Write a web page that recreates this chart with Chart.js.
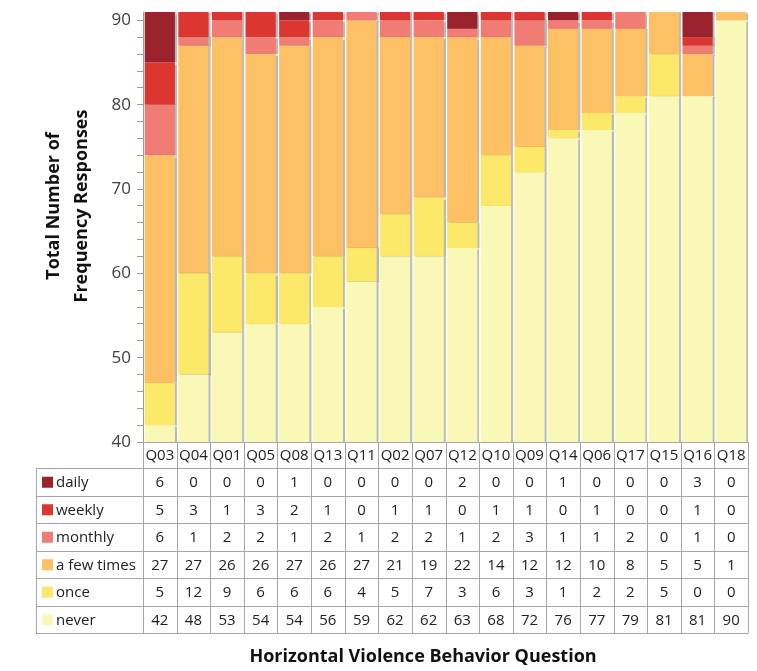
<!DOCTYPE html>
<html>
<head>
<meta charset="utf-8">
<script src="https://cdn.jsdelivr.net/npm/chart.js@4.4.0/dist/chart.umd.min.js"></script>
<style>
  body { margin: 0; background: #fff; }
  #wrap { width: 757px; height: 671px; }
</style>
</head>
<body>
<div id="wrap"><canvas id="myChart" width="757" height="671"></canvas></div>
<script>
const categories = ['Q03', 'Q04', 'Q01', 'Q05', 'Q08', 'Q13', 'Q11', 'Q02', 'Q07', 'Q12', 'Q10', 'Q09', 'Q14', 'Q06', 'Q17', 'Q15', 'Q16', 'Q18'];
const daily    = [6, 0, 0, 0, 1, 0, 0, 0, 0, 2, 0, 0, 1, 0, 0, 0, 3, 0];
const weekly   = [5, 3, 1, 3, 2, 1, 0, 1, 1, 0, 1, 1, 0, 1, 0, 0, 1, 0];
const monthly  = [6, 1, 2, 2, 1, 2, 1, 2, 2, 1, 2, 3, 1, 1, 2, 0, 1, 0];
const fewTimes = [27, 27, 26, 26, 27, 26, 27, 21, 19, 22, 14, 12, 12, 10, 8, 5, 5, 1];
const once     = [5, 12, 9, 6, 6, 6, 4, 5, 7, 3, 6, 3, 1, 2, 2, 5, 0, 0];
const never    = [42, 48, 53, 54, 54, 56, 59, 62, 62, 63, 68, 72, 76, 77, 79, 81, 81, 90];
const yMajorTicks = [40, 50, 60, 70, 80, 90];

const font = '"Open Sans", "DejaVu Sans", sans-serif';

// bottom to top in the stack
const series = [
    { label: 'never', data: never, color: 'rgb(249,248,182)' },
    { label: 'once', data: once, color: 'rgb(252,233,106)' },
    { label: 'a few times', data: fewTimes, color: 'rgb(253,192,100)' },
    { label: 'monthly', data: monthly, color: 'rgb(240,124,115)' },
    { label: 'weekly', data: weekly, color: 'rgb(220,54,48)' },
    { label: 'daily', data: daily, color: 'rgb(155,35,45)' }
];

const data = {
    labels: categories,
    datasets: series.map(s => ({
        label: s.label,
        data: s.data,
        backgroundColor: s.color,
        borderWidth: 0,
        barPercentage: 0.9,
        categoryPercentage: 1.0
    }))
};

// shadow on the right of each bar
const barShadow = {
    id: 'barShadow',
    beforeDatasetsDraw(chart) {
        const ctx = chart.ctx;
        ctx.save();
        ctx.shadowColor = 'rgba(0,0,0,0.28)';
        ctx.shadowOffsetX = 2;
        ctx.shadowOffsetY = 0;
        ctx.shadowBlur = 1;
    },
    afterDatasetsDraw(chart) {
        chart.ctx.restore();
    }
};

// data table under the bars, plus axis titles
const dataTable = {
    id: 'dataTable',
    afterDraw(chart) {
        const ctx = chart.ctx;
        const x = chart.scales.x;
        const area = chart.chartArea;
        const colW = area.width / categories.length;
        const tableLeft = 36;
        const top = area.bottom;
        const headH = 26;
        const rowH = 27.5;
        const rows = series.slice().reverse();
        const bottom = top + headH + rows.length * rowH;

        ctx.save();
        ctx.strokeStyle = '#a6a6a6';
        ctx.lineWidth = 1;
        ctx.beginPath();
        // header top line
        ctx.moveTo(area.left, Math.round(top) + 0.5);
        ctx.lineTo(area.right, Math.round(top) + 0.5);
        for (let r = 0; r <= rows.length; r++) {
            const yy = Math.round(top + headH + r * rowH) + 0.5;
            ctx.moveTo(tableLeft, yy);
            ctx.lineTo(area.right, yy);
        }
        for (let i = 0; i <= categories.length; i++) {
            const xx = Math.round(area.left + i * colW) + 0.5;
            ctx.moveTo(xx, top);
            ctx.lineTo(xx, bottom);
        }
        ctx.moveTo(tableLeft + 0.5, top + headH);
        ctx.lineTo(tableLeft + 0.5, bottom);
        ctx.stroke();

        ctx.fillStyle = '#222';
        ctx.font = '15px ' + font;
        ctx.textAlign = 'center';
        ctx.textBaseline = 'middle';
        categories.forEach((c, i) => {
            ctx.fillText(c, x.getPixelForValue(i), top + headH / 2 + 1);
        });

        rows.forEach((s, r) => {
            const cy = top + headH + r * rowH + rowH / 2 + 1;
            ctx.fillStyle = s.color;
            ctx.fillRect(tableLeft + 6, cy - 6, 11, 11);
            ctx.fillStyle = '#222';
            ctx.textAlign = 'left';
            ctx.fillText(s.label, tableLeft + 20, cy);
            ctx.textAlign = 'center';
            s.data.forEach((v, i) => {
                ctx.fillText(String(v), x.getPixelForValue(i), cy);
            });
        });

        // axis titles
        ctx.fillStyle = '#111';
        ctx.font = 'bold 18px ' + font;
        ctx.textAlign = 'center';
        ctx.fillText('Horizontal Violence Behavior Question', 423, 657);

        ctx.translate(68, 206);
        ctx.rotate(-Math.PI / 2);
        ctx.fillText('Total Number of', 0, -14);
        ctx.fillText('Frequency Responses', 0, 14);
        ctx.restore();
    }
};

const config = {
    type: 'bar',
    data: data,
    plugins: [barShadow, dataTable],
    options: {
        responsive: false,
        animation: false,
        layout: { padding: { top: 12, right: 9, bottom: 229, left: 0 } },
        plugins: {
            legend: { display: false },
            tooltip: { enabled: false }
        },
        scales: {
            x: {
                stacked: true,
                display: false
            },
            y: {
                stacked: true,
                min: 40,
                max: 91,
                afterFit(scale) {
                    scale.width = 143;
                    scale.paddingTop = 0;
                },
                afterBuildTicks(scale) {
                    const t = [];
                    for (let v = 40; v <= 90; v += 2) t.push({ value: v });
                    scale.ticks = t;
                },
                border: { display: true, color: '#9a9a9a', width: 1 },
                grid: {
                    drawOnChartArea: false,
                    drawTicks: true,
                    tickLength: 6,
                    color: '#9a9a9a'
                },
                ticks: {
                    autoSkip: false,
                    padding: 6,
                    color: '#404040',
                    font: { family: font, size: 17, lineHeight: 1 },
                    callback: v => yMajorTicks.includes(v) ? v : ''
                }
            }
        }
    }
};

const myChart = new Chart(document.getElementById('myChart'), config);
</script>
</body>
</html>
